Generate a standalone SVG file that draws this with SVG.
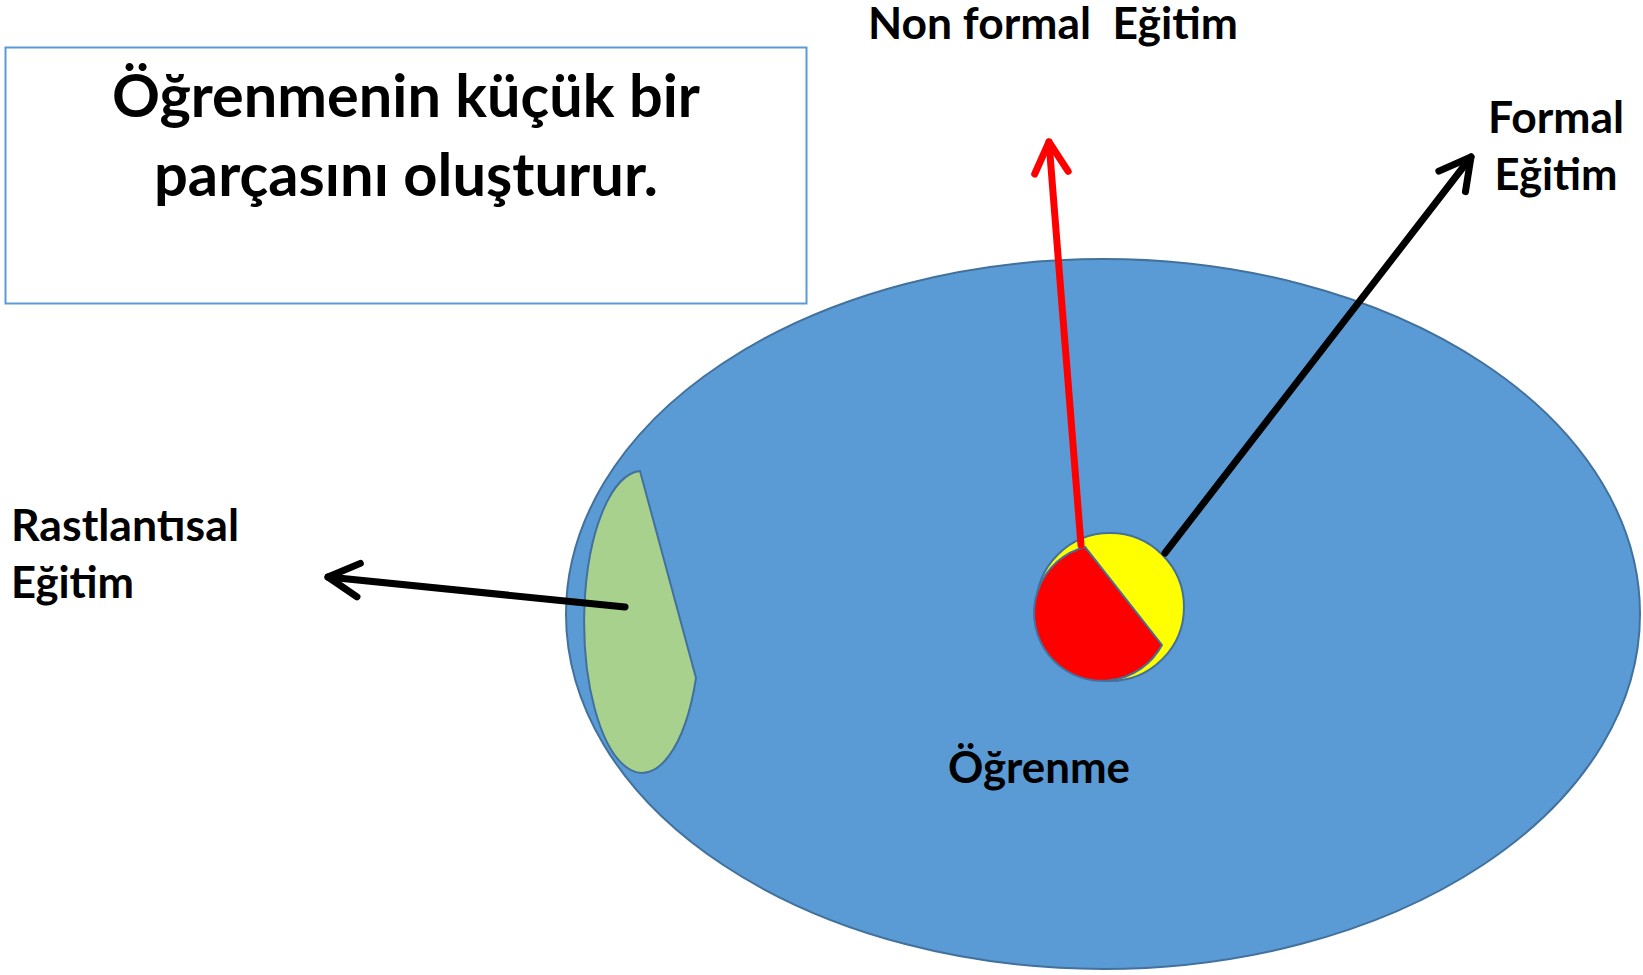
<svg xmlns="http://www.w3.org/2000/svg" width="1643" height="975" viewBox="0 0 1643 975">
<style>
  text { font-family: Lato, "Liberation Sans", sans-serif; font-weight: bold; fill: #000; }
  .big { font-size: 59px; }
  .lbl { font-size: 44px; }
  .shape { stroke: #41719C; stroke-width: 2; }
  .conn { fill: none; stroke-width: 7; stroke-linecap: round; }
</style>
<defs>
  <marker id="headBlack" viewBox="-6 -4 7 8" refX="0" refY="0" markerWidth="7" markerHeight="8" orient="auto" markerUnits="strokeWidth" overflow="visible">
    <path d="M-4.4,-2.4 L0,0 L-4.4,2.4" fill="none" stroke="#000" stroke-width="1" stroke-linecap="round" stroke-linejoin="round"/>
  </marker>
  <marker id="headRed" viewBox="-6 -4 7 8" refX="0" refY="0" markerWidth="7" markerHeight="8" orient="auto" markerUnits="strokeWidth" overflow="visible">
    <path d="M-4.4,-2.4 L0,0 L-4.4,2.4" fill="none" stroke="#FF0000" stroke-width="1" stroke-linecap="round" stroke-linejoin="round"/>
  </marker>
</defs>
<rect width="1643" height="975" fill="#FFFFFF"/>

<g id="box">
  <rect x="5.5" y="47.5" width="801" height="256" fill="#FFFFFF" stroke="#5B9BD5" stroke-width="2"/>
  <text class="big" x="406" y="117" text-anchor="middle" textLength="588" lengthAdjust="spacingAndGlyphs">Öğrenmenin küçük bir</text>
  <text class="big" x="406" y="196" text-anchor="middle" textLength="504" lengthAdjust="spacingAndGlyphs">parçasını oluşturur.</text>
</g>

<g id="ogrenme">
  <ellipse class="shape" cx="1103" cy="614" rx="537" ry="355" fill="#5B9BD5"/>
  <text class="lbl" x="1039" y="783" text-anchor="middle" textLength="182" lengthAdjust="spacingAndGlyphs">Öğrenme</text>
</g>

<g id="rastlantisal-shape">
  <path class="shape" d="M640,471 A58,151 0 1,0 696,678 Z" fill="#A9D18E"/>
</g>

<g id="center">
  <circle class="shape" cx="1110" cy="607" r="74" fill="#FFFF00"/>
  <path class="shape" d="M1085,547 A68,68 0 1,0 1162,645 Z" fill="#FF0000"/>
</g>

<g id="connectors">
  <line class="conn" x1="1081" y1="545" x2="1049" y2="142" stroke="#FF0000" marker-end="url(#headRed)"/>
  <line class="conn" x1="1165" y1="553" x2="1471" y2="157" stroke="#000" marker-end="url(#headBlack)"/>
  <line class="conn" x1="625" y1="607" x2="328" y2="577" stroke="#000" marker-end="url(#headBlack)"/>
</g>

<g id="label-nonformal">
  <text class="lbl" x="1053" y="39" text-anchor="middle" textLength="370" lengthAdjust="spacingAndGlyphs">Non formal&#160; Eğitim</text>
</g>
<g id="label-formal">
  <text class="lbl" x="1556" y="133" text-anchor="middle" textLength="136" lengthAdjust="spacingAndGlyphs">Formal</text>
  <text class="lbl" x="1556" y="190" text-anchor="middle" textLength="123" lengthAdjust="spacingAndGlyphs">Eğitim</text>
</g>
<g id="label-rastlantisal">
  <text class="lbl" x="11" y="541" textLength="228" lengthAdjust="spacingAndGlyphs">Rastlantısal</text>
  <text class="lbl" x="11" y="598" textLength="123" lengthAdjust="spacingAndGlyphs">Eğitim</text>
</g>
</svg>
